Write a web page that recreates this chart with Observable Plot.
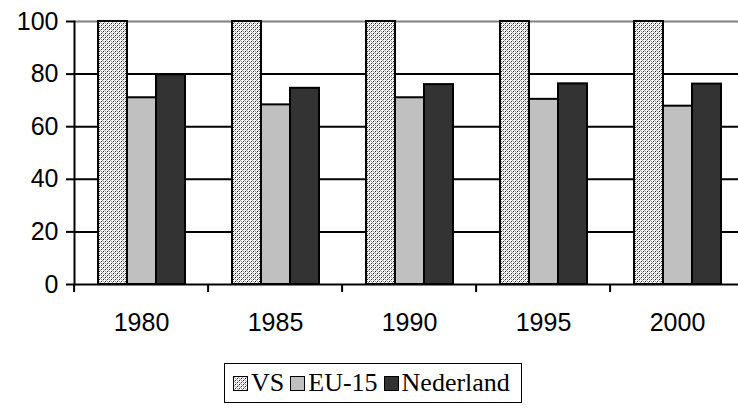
<!DOCTYPE html>
<html>
<head>
<meta charset="utf-8">
<script src="https://cdn.jsdelivr.net/npm/d3@7"></script>
<script src="https://cdn.jsdelivr.net/npm/@observablehq/plot@0.6"></script>
<style>
  html, body { margin: 0; padding: 0; background: #fff; }
  #wrap { position: relative; width: 738px; height: 408px; overflow: hidden; }
  #legend {
    position: absolute; left: 224px; top: 363px; width: 298px; height: 40px;
    border: 1.5px solid #000; box-sizing: border-box;
    display: flex; align-items: center; padding-left: 8px;
    font-family: "Liberation Serif", "DejaVu Serif", serif; font-size: 26px; color: #000;
  }
  .item { display: flex; align-items: center; margin-right: 6px; font-family: "Liberation Serif", "DejaVu Serif", serif; }
  .sw { width: 13px; height: 13px; border: 1.5px solid #000; margin-right: 3px; box-sizing: content-box; }
</style>
</head>
<body>
<div id="wrap"><div id="chart"></div><div id="legend"></div></div>
<script>
const years = ["1980", "1985", "1990", "1995", "2000"];
const series = ["VS", "EU-15", "Nederland"];
const vsValues = [100, 100, 100, 100, 100];
const eu15Values = [71.0, 68.3, 71.0, 70.4, 67.8];
const nederlandValues = [79.7, 74.6, 76.0, 76.3, 76.2];
const yTicks = [0, 20, 40, 60, 80, 100];
const seriesFills = ["url(#vsPattern)", "#c0c0c0", "#333333"];

const valuesBySeries = [vsValues, eu15Values, nederlandValues];
const rows = [];
years.forEach((year, i) => {
  series.forEach((s, j) => rows.push({year, series: s, value: valuesBySeries[j][i]}));
});

const plot = Plot.plot({
  width: 738,
  height: 350,
  marginTop: 21,
  marginBottom: 66,
  marginLeft: 72,
  marginRight: 0,
  style: {fontFamily: "'Liberation Sans', Arial, sans-serif", fontSize: "25px", color: "#000", background: "#fff"},
  fx: {domain: years, range: [72, 746], padding: 0, label: null},
  x: {domain: series, paddingInner: 0, paddingOuter: 0.75, axis: null},
  y: {domain: [0, 100], label: null},
  color: {type: "ordinal", domain: series, range: seriesFills},
  marks: [
    Plot.ruleY(yTicks.filter(t => t > 0 && t < 100), {stroke: "#000", strokeWidth: 2}),
    Plot.ruleY(yTicks.filter(t => t === 100), {stroke: "#808080", strokeWidth: 2}),
    Plot.barY(rows, {fx: "year", x: "series", y: "value", fill: "series", stroke: "#000", strokeWidth: 2}),
    Plot.ruleY([0], {stroke: "#000", strokeWidth: 2}),
    Plot.frame({anchor: "left", stroke: "#000", strokeWidth: 2, facetAnchor: "left"}),
    Plot.axisY({ticks: yTicks, tickSize: 8, tickPadding: 8, strokeWidth: 2, label: null, fontSize: 25}),
    Plot.axisFx({anchor: "bottom", tickSize: 0, tickPadding: 29, fontSize: 25, label: null}),
    Plot.axisFx({anchor: "bottom", tickSize: 8, strokeWidth: 2, fill: "none", label: null, dx: -67.4})
  ]
});

function addPattern(svgSel, id) {
  const p = svgSel.append("defs").append("pattern").attr("id", id).attr("patternUnits", "userSpaceOnUse")
    .attr("width", 4).attr("height", 4);
  p.append("rect").attr("width", 4).attr("height", 4).attr("fill", "#fff");
  [[0,0],[1,1],[2,2],[3,3]].forEach(([px, py]) =>
    p.append("rect").attr("x", px).attr("y", py).attr("width", 1).attr("height", 1).attr("fill", "#9a9a9a"));
  [[3,1],[1,3]].forEach(([px, py]) =>
    p.append("rect").attr("x", px).attr("y", py).attr("width", 1).attr("height", 1).attr("fill", "#222"));
}
const svg = d3.select(plot);
addPattern(svg, "vsPattern");
svg.select("defs").lower();
document.getElementById("chart").appendChild(plot);

// Legend (HTML) with small SVG swatches
const legend = d3.select("#legend");
series.forEach((s, j) => {
  const item = legend.append("div").attr("class", "item");
  const sw = item.append("svg").attr("class", "sw").attr("width", 13).attr("height", 13);
  if (j === 0) addPattern(sw, "lgPattern0");
  sw.append("rect").attr("width", 13).attr("height", 13)
    .attr("fill", j === 0 ? "url(#lgPattern0)" : seriesFills[j]);
  item.append("span").text(s);
});
</script>
</body>
</html>
